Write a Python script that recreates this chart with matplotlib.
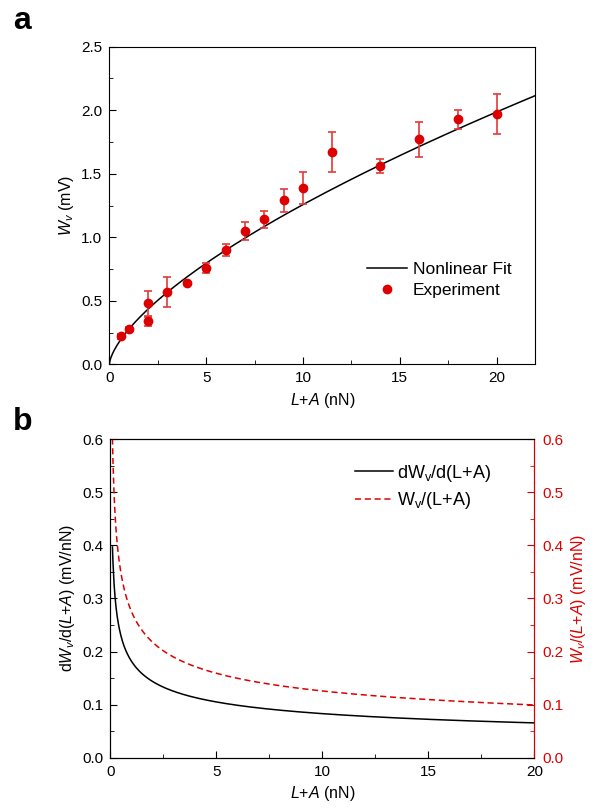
import numpy as np
import matplotlib
matplotlib.use("Agg")
import matplotlib.pyplot as plt
from matplotlib.ticker import MultipleLocator, FormatStrFormatter

plt.rcParams['font.family'] = ['Liberation Sans', 'DejaVu Sans']
plt.rcParams['mathtext.fontset'] = 'custom'
plt.rcParams['mathtext.rm'] = 'Liberation Sans'
plt.rcParams['mathtext.it'] = 'Liberation Sans:italic'
plt.rcParams['mathtext.bf'] = 'Liberation Sans:bold'

# experiment (panel a)
load = [0.6, 1.0, 2.0, 2.0, 3.0, 4.0, 5.0, 6.0, 7.0, 8.0, 9.0, 10.0, 11.5, 14.0, 16.0, 18.0, 20.0]
w_exp = [0.22, 0.28, 0.48, 0.34, 0.57, 0.64, 0.76, 0.90, 1.05, 1.14, 1.29, 1.39, 1.67, 1.56, 1.77, 1.93, 1.97]
w_err = [0.02, 0.01, 0.10, 0.035, 0.115, 0.01, 0.04, 0.045, 0.07, 0.065, 0.09, 0.125, 0.16, 0.055, 0.135, 0.075, 0.16]

# nonlinear fit W = k*(L+A)^n
k_fit = 0.275
n_fit = 0.66

red = '#dd0000'
tick_fs = 11
lab_fs = 11.5


def style_axis(a, xstep, ystep):
    a.xaxis.set_major_locator(MultipleLocator(xstep))
    a.xaxis.set_minor_locator(MultipleLocator(xstep / 2))
    a.yaxis.set_major_locator(MultipleLocator(ystep))
    a.yaxis.set_minor_locator(MultipleLocator(ystep / 2))
    a.yaxis.set_major_formatter(FormatStrFormatter('%.1f'))
    a.tick_params(which='both', direction='in', labelsize=tick_fs, pad=5)
    a.tick_params(which='major', length=5)
    a.tick_params(which='minor', length=3)


fig = plt.figure(figsize=(5.98, 8.08), dpi=100)

# ---- panel a
ax = fig.add_axes([0.1828, 0.5491, 0.7124, 0.3931])
xf = np.linspace(0, 22, 500)
ax.plot(xf, k_fit * xf**n_fit, color='black', lw=1.1, label='Nonlinear Fit')
ax.errorbar(load, w_exp, yerr=w_err, fmt='o', color=red, ecolor='#e23a3a',
            ms=6, elinewidth=1.2, capsize=3, capthick=1.2, label='Experiment')
ax.set_xlim(0, 22)
ax.set_ylim(0, 2.5)
style_axis(ax, 5, 0.5)
ax.set_xlabel('$L$+$A$ (nN)', fontsize=lab_fs)
ax.set_ylabel('$W_v$ (mV)', fontsize=lab_fs)
h, l = ax.get_legend_handles_labels()
ax.legend([h[0], h[1][0]], l, loc='upper left', bbox_to_anchor=(0.605, 0.323),
          frameon=False, fontsize=12.5, handlelength=2.3, handletextpad=0.35,
          labelspacing=0.35, borderpad=0, borderaxespad=0)

# ---- panel b
bx = fig.add_axes([0.1845, 0.0623, 0.709, 0.394])
xb = np.linspace(0.1, 20, 800)
deriv = k_fit * n_fit * xb**(n_fit - 1)
ratio = k_fit * xb**(n_fit - 1)
l1, = bx.plot(xb, deriv, color='black', lw=1.1)
bx.set_xlim(0, 20)
bx.set_ylim(0, 0.6)
style_axis(bx, 5, 0.1)
bx.set_xlabel('$L$+$A$ (nN)', fontsize=lab_fs)
bx.set_ylabel('d$W_v$/d($L$+$A$) (mV/nN)', fontsize=lab_fs)

tx = bx.twinx()
l2, = tx.plot(xb, ratio, color=red, lw=1.1, ls=(0, (4, 2.4)))
tx.set_ylim(0, 0.6)
tx.yaxis.set_major_locator(MultipleLocator(0.1))
tx.yaxis.set_minor_locator(MultipleLocator(0.05))
tx.yaxis.set_major_formatter(FormatStrFormatter('%.1f'))
tx.tick_params(which='both', direction='in', labelsize=tick_fs, colors=red, pad=6)
tx.tick_params(which='major', length=5)
tx.tick_params(which='minor', length=3)
tx.spines['right'].set_color(red)
tx.set_ylabel('$W_v$/($L$+$A$) (mV/nN)', fontsize=lab_fs, color=red)

bx.legend([l1, l2], ['dW$_\\mathrm{v}$/d(L+A)', 'W$_\\mathrm{v}$/(L+A)'],
          loc='upper left', bbox_to_anchor=(0.577, 0.927), frameon=False,
          fontsize=13, handlelength=2.1, handletextpad=0.25, labelspacing=0.35,
          borderpad=0, borderaxespad=0)

fig.text(0.022, 0.974, 'a', fontsize=23, fontweight='bold', va='center')
fig.text(0.022, 0.478, 'b', fontsize=23, fontweight='bold', va='center')

fig.savefig('out.png', dpi=100)
